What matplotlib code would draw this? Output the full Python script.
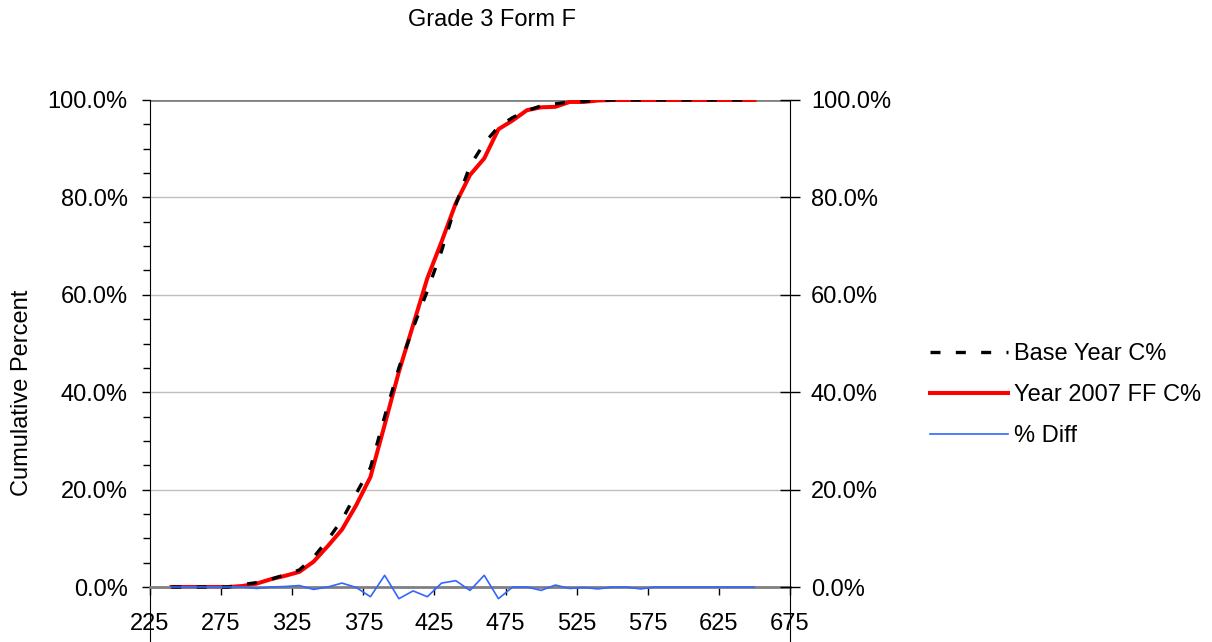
import numpy as np
import matplotlib
matplotlib.use("Agg")
from matplotlib import pyplot as plt
from matplotlib.ticker import PercentFormatter, FixedLocator

plt.rcParams['font.family'] = ['Liberation Sans', 'DejaVu Sans']

# scale score points
score = [240, 250, 260, 270, 280, 290, 300, 310, 320, 330,
         340, 350, 360, 370, 380, 390, 400, 410, 420, 430,
         440, 450, 460, 470, 480, 490, 500, 510, 520, 530,
         540, 550, 560, 570, 580, 590, 600, 610, 620, 630,
         640, 650]

# cumulative percent, base year
base_cpct = [0, 0, 0, 0, 0, 0.5, 0.9, 1.6, 2.5, 3.5,
             6.1, 9.7, 13.8, 19.2, 24.5, 35.0, 45.0, 53.2, 60.8, 69.0,
             78.5, 86.5, 91.1, 94.5, 96.4, 97.8, 98.8, 99.2, 99.6, 99.7,
             99.9, 100, 100, 100, 100, 100, 100, 100, 100, 100,
             100, 100]

# cumulative percent, year 2007 form F
y2007_cpct = [0, 0, 0, 0, 0, 0.2, 0.7, 1.6, 2.3, 3.1,
              5.2, 8.4, 11.8, 16.8, 22.6, 33.3, 44.2, 53.8, 63.4, 70.9,
              78.8, 84.6, 88.0, 94.0, 95.8, 97.9, 98.5, 98.6, 99.6, 99.6,
              99.9, 100, 100, 100, 100, 100, 100, 100, 100, 100,
              100, 100]

# percent difference
pct_diff = [0, 0, 0, 0, 0, 0, -0.3, 0.0, 0.1, 0.3,
            -0.5, 0.0, 0.8, -0.1, -2.0, 2.4, -2.4, -0.8, -2.0, 0.8,
            1.3, -0.7, 2.4, -2.4, 0, 0, -0.7, 0.4, -0.3, -0.1,
            -0.4, 0, 0, -0.4, 0, 0, 0, 0, 0, 0,
            0, 0]

y_ticks = [0, 0.2, 0.4, 0.6, 0.8, 1.0]
x_ticks = [225, 275, 325, 375, 425, 475, 525, 575, 625, 675]

FS = 17
W, H = 1212, 642

fig = plt.figure(figsize=(W / 100, H / 100), dpi=100)
ax = fig.add_axes([150 / W, 0, 640 / W, 542 / H])
ax.set_xlim(225, 675)
ymin = -55 / 487
ax.set_ylim(ymin, 1.0)

for g in y_ticks[1:-1]:
    ax.axhline(g, color='#c0c0c0', lw=1, zorder=0)
ax.axhline(1.0, color='#808080', lw=2, zorder=0)

x = np.array(score)
l1, = ax.plot(x, np.array(base_cpct) / 100, color='black', lw=2.4,
              zorder=3, label='Base Year C%')
l1.set_dashes([3.0, 4.6])
l1.set_dash_capstyle('butt')
l2, = ax.plot(x, np.array(y2007_cpct) / 100, color='#ff0000', lw=2.9,
              zorder=2, label='Year 2007 FF C%')

ax.spines['top'].set_visible(False)
ax.spines['right'].set_visible(False)
ax.spines['left'].set_color('black')
ax.spines['bottom'].set_position(('data', 0))
ax.spines['bottom'].set_color('#808080')
ax.spines['bottom'].set_linewidth(2)

ax.set_xticks(x_ticks)
ax.set_yticks(y_ticks)
ax.yaxis.set_minor_locator(FixedLocator(np.arange(0, 1.0001, 0.05)))
ax.yaxis.set_major_formatter(PercentFormatter(1.0, decimals=1))
ax.tick_params(axis='y', which='major', direction='out', length=6, width=1,
               pad=10, labelsize=FS)
ax.tick_params(axis='y', which='minor', direction='out', length=5, width=1)
ax.tick_params(axis='x', direction='out', length=5.5, width=1, pad=13,
               labelsize=FS)

ax2 = ax.twinx()
ax2.set_ylim(ymin, 1.0)
l3, = ax2.plot(x, np.array(pct_diff) / 100, color='#3366ff', lw=1.2,
               label='% Diff')
for s in ['top', 'left', 'bottom']:
    ax2.spines[s].set_visible(False)
ax2.spines['right'].set_color('black')
ax2.set_yticks(y_ticks)
ax2.yaxis.set_major_formatter(PercentFormatter(1.0, decimals=1))
ax2.tick_params(axis='y', direction='inout', length=14, width=1, pad=8,
                labelsize=FS)

fig.text(492 / W, 1 - 20 / H, 'Grade 3 Form F', ha='center', va='center',
         fontsize=FS)
fig.text(22 / W, 1 - 393 / H, 'Cumulative Percent', rotation=90,
         ha='center', va='center', fontsize=FS)

fig.legend([l1, l2, l3], [l1.get_label(), l2.get_label(), l3.get_label()],
           loc='upper left', bbox_to_anchor=(930 / W, 1 - 343 / H),
           frameon=False, borderpad=0, borderaxespad=0, handlelength=3.3,
           handletextpad=0.25, labelspacing=0.8, fontsize=FS)

fig.savefig('out.png', dpi=100)
